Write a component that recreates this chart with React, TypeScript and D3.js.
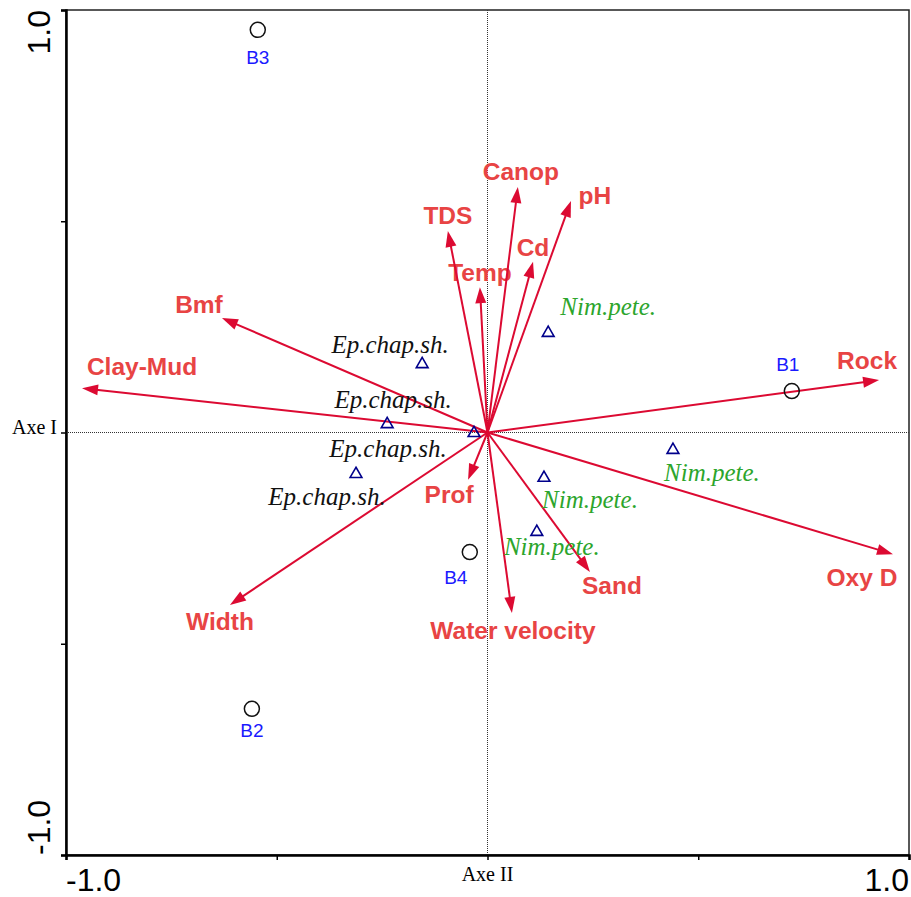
import * as React from 'react';
import { useRef, useEffect } from 'react';
import * as d3 from 'd3';

type Vec = { name: string; x: number; y: number };

// environmental variables (arrow tips, axis units)
const envNames = ['Rock', 'Oxy D', 'Clay-Mud', 'Bmf', 'Width', 'Water velocity', 'Sand', 'Prof', 'Temp', 'TDS', 'Canop', 'Cd', 'pH'];
const envX = [0.929, 0.962, -0.962, -0.630, -0.611, 0.058, 0.243, -0.046, -0.018, -0.094, 0.072, 0.108, 0.198];
const envY = [0.124, -0.288, 0.105, 0.271, -0.408, -0.427, -0.330, -0.112, 0.344, 0.477, 0.581, 0.404, 0.548];

// sites
const siteNames = ['B1', 'B2', 'B3', 'B4'];
const siteX = [0.722, -0.559, -0.545, -0.042];
const siteY = [0.098, -0.654, 0.953, -0.283];

// species
const speciesNames = ['Ep.chap.sh.', 'Ep.chap.sh.', 'Ep.chap.sh.', 'Ep.chap.sh.', 'Nim.pete.', 'Nim.pete.', 'Nim.pete.', 'Nim.pete.'];
const speciesX = [-0.155, -0.238, -0.032, -0.312, 0.144, 0.440, 0.134, 0.117];
const speciesY = [0.164, 0.022, 0.001, -0.096, 0.238, -0.039, -0.105, -0.233];

const tickValues = [-1, -0.5, 0, 0.5, 1];

// label offsets in px (layout only)
const envLabelOffset: [number, number][] = [
  [-12, -20], [-31, 23], [60, -22], [-23, -14], [-10, 16], [1, 17], [22, 13],
  [-19, 14], [0, -15], [0, -16], [3, -16], [0, -15], [24, -6],
];
const siteLabelOffset: [number, number][] = [[-4, -27], [0, 21], [0, 27], [-14, 25]];
const speciesLabelOffset: [number, number][] = [
  [-32, -18], [6, -23], [-86, 17], [-29, 24], [60, -25], [39, 24], [46, 23], [15, 16],
];

export default function App() {
  const svgRef = useRef<SVGSVGElement>(null);
  const width = 911;
  const height = 897;
  const margin = { top: 10, right: 2, bottom: 42, left: 66 };

  useEffect(() => {
    document.body.style.margin = '0';
    if (!svgRef.current) return;
    const svg = d3.select(svgRef.current);
    svg.selectAll('*').remove();

    const xScale = d3.scaleLinear().domain([-1, 1]).range([margin.left, width - margin.right]);
    const yScale = d3.scaleLinear().domain([-1, 1]).range([height - margin.bottom, margin.top]);
    const x0 = xScale(0);
    const y0 = yScale(0);

    /* frame */
    svg.append('rect')
      .attr('x', xScale(-1)).attr('y', yScale(1))
      .attr('width', xScale(1) - xScale(-1)).attr('height', yScale(-1) - yScale(1))
      .attr('fill', 'none').attr('stroke', '#222').attr('stroke-width', 1.5);

    // center dotted lines
    svg.append('line')
      .attr('x1', xScale(-1)).attr('x2', xScale(1)).attr('y1', y0).attr('y2', y0)
      .attr('stroke', '#333').attr('stroke-width', 1).attr('stroke-dasharray', '1,1');
    svg.append('line')
      .attr('x1', x0).attr('x2', x0).attr('y1', yScale(1)).attr('y2', yScale(-1))
      .attr('stroke', '#333').attr('stroke-width', 1).attr('stroke-dasharray', '1,1');

    /* axes */
    const gx = svg.append('g')
      .attr('transform', `translate(0,${yScale(-1)})`)
      .call(d3.axisBottom(xScale).tickValues(tickValues).tickSize(5).tickFormat(() => ''));
    gx.select('.domain').attr('stroke', '#000').attr('stroke-width', 2.5);
    gx.selectAll('.tick line').attr('stroke-width', 1.5);

    const gy = svg.append('g')
      .attr('transform', `translate(${xScale(-1)},0)`)
      .call(d3.axisLeft(yScale).tickValues(tickValues).tickSize(5).tickFormat(() => ''));
    gy.select('.domain').attr('stroke', '#000').attr('stroke-width', 2.5);
    gy.selectAll('.tick line').attr('stroke-width', 1.5);

    const tickFont = 'Arial, "Liberation Sans", sans-serif';
    svg.append('text')
      .attr('x', xScale(-1)).attr('y', 891)
      .attr('font-family', tickFont).attr('font-size', 32).attr('text-anchor', 'start')
      .text('-1.0');
    svg.append('text')
      .attr('x', xScale(1)).attr('y', 891)
      .attr('font-family', tickFont).attr('font-size', 32).attr('text-anchor', 'end')
      .text('1.0');
    svg.append('text')
      .attr('transform', `translate(50,${yScale(1)}) rotate(-90)`)
      .attr('font-family', tickFont).attr('font-size', 32).attr('text-anchor', 'end')
      .text('1.0');
    svg.append('text')
      .attr('transform', `translate(50,${yScale(-1)}) rotate(-90)`)
      .attr('font-family', tickFont).attr('font-size', 32).attr('text-anchor', 'start')
      .text('-1.0');

    const serif = '"Times New Roman", "Liberation Serif", serif';
    svg.append('text')
      .attr('x', 57).attr('y', y0 + 1)
      .attr('font-family', serif).attr('font-size', 20).attr('text-anchor', 'end')
      .text('Axe I');
    svg.append('text')
      .attr('x', x0).attr('y', 881)
      .attr('font-family', serif).attr('font-size', 20).attr('text-anchor', 'middle')
      .text('Axe II');

    /* arrows */
    const env: Vec[] = envNames.map((name, i) => ({ name, x: envX[i], y: envY[i] }));
    const headLen = 16;
    const headHalf = 5.5;
    const arrows = svg.append('g');
    env.forEach((d, i) => {
      const tx = xScale(d.x);
      const ty = yScale(d.y);
      const dx = tx - x0;
      const dy = ty - y0;
      const len = Math.hypot(dx, dy);
      const ux = dx / len;
      const uy = dy / len;
      const bx = tx - ux * headLen;
      const by = ty - uy * headLen;
      arrows.append('line')
        .attr('x1', x0).attr('y1', y0).attr('x2', bx + ux * 2).attr('y2', by + uy * 2)
        .attr('stroke', '#dc0a32').attr('stroke-width', 2);
      arrows.append('polygon')
        .attr('points', [
          [tx, ty],
          [bx - uy * headHalf, by + ux * headHalf],
          [bx + uy * headHalf, by - ux * headHalf],
        ].map((p) => p.join(',')).join(' '))
        .attr('fill', '#dc0a32');
      const [ox, oy] = envLabelOffset[i];
      arrows.append('text')
        .attr('x', tx + ox).attr('y', ty + oy)
        .attr('dy', '0.36em')
        .attr('text-anchor', 'middle')
        .attr('font-family', tickFont).attr('font-weight', 'bold').attr('font-size', 24.5)
        .attr('fill', '#e84444')
        .text(d.name);
    });

    /* sites */
    const sites = svg.append('g');
    siteNames.forEach((name, i) => {
      const cx = xScale(siteX[i]);
      const cy = yScale(siteY[i]);
      sites.append('circle')
        .attr('cx', cx).attr('cy', cy).attr('r', 7.5)
        .attr('fill', 'none').attr('stroke', '#111').attr('stroke-width', 1.5);
      const [ox, oy] = siteLabelOffset[i];
      sites.append('text')
        .attr('x', cx + ox).attr('y', cy + oy).attr('dy', '0.36em')
        .attr('text-anchor', 'middle')
        .attr('font-family', tickFont).attr('font-size', 19)
        .attr('fill', '#1a1aff')
        .text(name);
    });

    /* species */
    const species = svg.append('g');
    const tri = d3.symbol().type(d3.symbolTriangle).size(60);
    speciesNames.forEach((name, i) => {
      const cx = xScale(speciesX[i]);
      const cy = yScale(speciesY[i]);
      species.append('path')
        .attr('d', tri())
        .attr('transform', `translate(${cx},${cy + 1})`)
        .attr('fill', 'none').attr('stroke', '#00008b').attr('stroke-width', 1.6);
      const [ox, oy] = speciesLabelOffset[i];
      species.append('text')
        .attr('x', cx + ox).attr('y', cy + oy).attr('dy', '0.32em')
        .attr('text-anchor', 'middle')
        .attr('font-family', serif).attr('font-style', 'italic').attr('font-size', 25)
        .attr('fill', name.startsWith('Nim') ? '#2ca52c' : '#111')
        .text(name);
    });
  }, [margin.bottom, margin.left, margin.right, margin.top]);

  return (
    <svg ref={svgRef} width={width} height={height} style={{ display: 'block', background: '#fff' }} />
  );
}
